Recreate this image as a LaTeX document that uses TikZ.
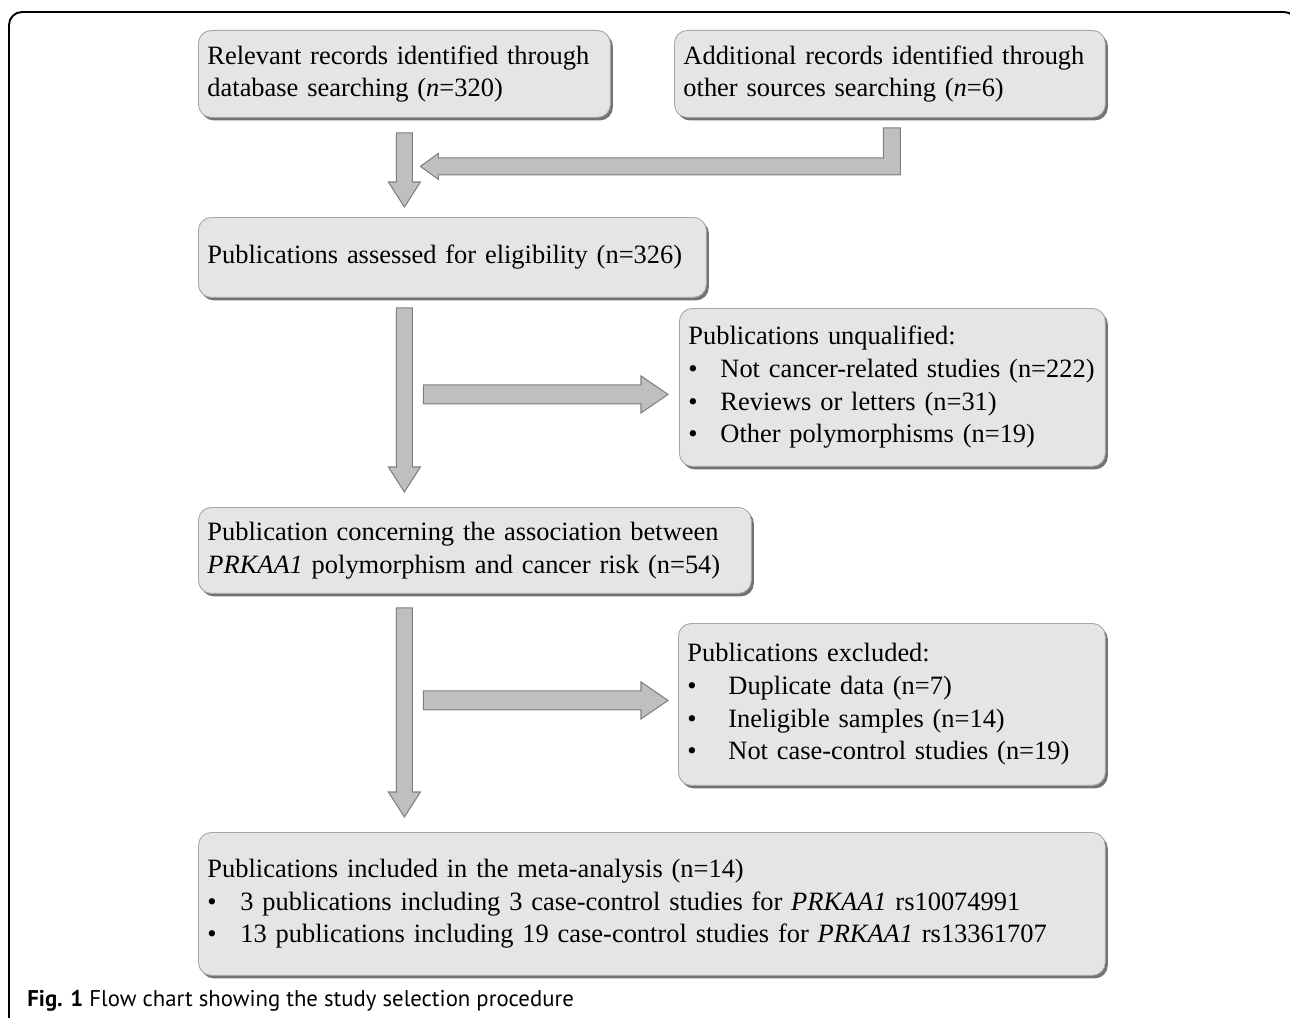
\documentclass[tikz,border=0pt]{standalone}
\usepackage{fontspec}
\setmainfont{Liberation Serif}
\newfontfamily\capfont{PT Sans}
\usetikzlibrary{calc,positioning,shadows}

\tikzset{
  box/.style={draw=black!35, line width=0.5pt, fill=black!10, rounded corners=0.26cm,
    drop shadow={shadow xshift=0.05cm, shadow yshift=-0.06cm, fill=black!55, opacity=1},
    anchor=north west, align=left, inner xsep=0.18cm, inner ysep=0pt,
    font=\fontsize{15.05pt}{18.6pt}\selectfont},
  blockarr/.style={draw=black!50, fill=black!25, line width=0.6pt, line join=miter},
  frame/.style={draw=black, line width=1.1pt, rounded corners=0.26cm}
}

% bullet with a fixed indent
\newcommand\itm[1]{\makebox[#1][l]{\textbullet}}
% straight block arrow: tail, tip, shaft half, head half, head length
\newcommand\blockarrow[5]{%
  \path ($(#2)!#5!(#1)$) coordinate (hb);
  \draw[blockarr] ($(#1)!#3!90:(#2)$) -- ($(hb)!#3!90:(#2)$) -- ($(hb)!#4!90:(#2)$) -- (#2)
    -- ($(hb)!#4!-90:(#2)$) -- ($(hb)!#3!-90:(#2)$) -- ($(#1)!#3!-90:(#2)$) -- cycle;}

\begin{document}
\begin{tikzpicture}[x=0.02cm, y=-0.02cm]
  \useasboundingbox (0,0) rectangle (1290,1017);
  \clip (0,0) rectangle (1290,1017);
  \draw[frame] (9,1040) -- (9,12) -- (1297,12) -- (1297,1040);

  % boxes
  \node[box, text width=7.88cm, minimum height=1.74cm] (A) at (198,30)
    {Relevant records identified through\\ database searching (\textit{n}=320)};
  \node[box, text width=8.26cm, minimum height=1.74cm] (B) at (674,30)
    {Additional records identified through\\ other sources searching (\textit{n}=6)};
  \node[box, text width=9.80cm, minimum height=1.60cm] (C) at (198,217)
    {Publications assessed for eligibility (n=326)};
  \node[box, text width=8.16cm, minimum height=3.16cm] (D) at (679,308)
    {Publications unqualified:\\
     \itm{0.64cm}Not cancer-related studies (n=222)\\
     \itm{0.64cm}Reviews or letters (n=31)\\
     \itm{0.64cm}Other polymorphisms (n=19)};
  \node[box, text width=10.70cm, minimum height=1.72cm] (E) at (198,507)
    {Publication concerning the association between\\
     \textit{PRKAA1} polymorphism and cancer risk (n=54)};
  \node[box, text width=8.18cm, minimum height=3.24cm] (F) at (678,623)
    {Publications excluded:\\
     \itm{0.82cm}Duplicate data (n=7)\\
     \itm{0.82cm}Ineligible samples (n=14)\\
     \itm{0.82cm}Not case-control studies (n=19)};
  \node[box, text width=17.78cm, minimum height=2.86cm] (G) at (198,832)
    {Publications included in the meta-analysis (n=14)\\
     \itm{0.66cm}3 publications including 3 case-control studies for \textit{PRKAA1} rs10074991\\
     \itm{0.66cm}13 publications including 19 case-control studies for \textit{PRKAA1} rs13361707};

  % arrow ends
  \coordinate (d1a) at ($(A.south)+(0,15)$);
  \coordinate (d1b) at ($(A.south |- C.north)+(0,-10)$);
  \coordinate (d2a) at ($(A.south |- C.south)+(0,10)$);
  \coordinate (d2b) at ($(A.south |- E.north)+(0,-15)$);
  \coordinate (d3a) at ($(A.south |- E.south)+(0,14)$);
  \coordinate (d3b) at ($(A.south |- G.north)+(0,-15)$);
  \coordinate (r1b) at ($(D.west)+(-11,7)$);
  \coordinate (r1a) at ($(A.south |- r1b)+(19,0)$);
  \coordinate (r2b) at ($(F.west)+(-10,-4)$);
  \coordinate (r2a) at ($(A.south |- r2b)+(19,0)$);
  \coordinate (e0) at ($(B.south)+(2,10)$);
  \coordinate (etip) at ($(A.south |- e0)+(16,38.5)$);

  \blockarrow{d1a}{d1b}{0.16cm}{0.32cm}{0.5cm}
  \blockarrow{d2a}{d2b}{0.16cm}{0.32cm}{0.5cm}
  \blockarrow{d3a}{d3b}{0.16cm}{0.32cm}{0.5cm}
  \blockarrow{r1a}{r1b}{0.19cm}{0.37cm}{0.54cm}
  \blockarrow{r2a}{r2b}{0.19cm}{0.37cm}{0.54cm}
  % elbow arrow from B
  \draw[blockarr] ($(e0)+(-8.5,0)$) -- ($(e0)+(8.5,0)$) -- ($(e0 |- etip)+(8.5,8.5)$)
    -- ($(etip)+(18,8.5)$) -- ($(etip)+(18,13)$) -- (etip) -- ($(etip)+(18,-13)$)
    -- ($(etip)+(18,-8.5)$) -- ($(e0 |- etip)+(-8.5,-8.5)$) -- cycle;

  % caption
  \node[anchor=base west, inner sep=0pt, font=\capfont\fontsize{12.95pt}{15pt}\selectfont] (cap) at (27,1006)
    {\textbf{Fig. 1} Flow chart showing the study selection procedure};
\end{tikzpicture}
\end{document}
